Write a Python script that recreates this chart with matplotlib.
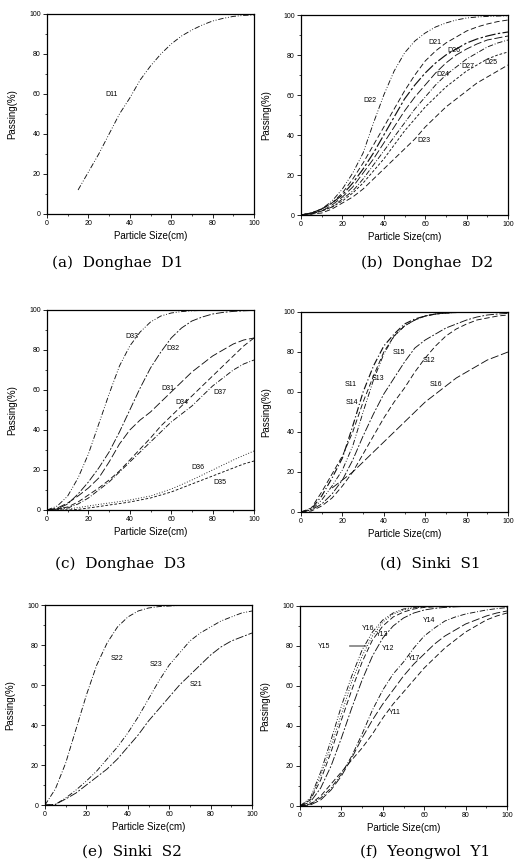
import matplotlib
matplotlib.use('Agg')
from matplotlib import pyplot as plt
from matplotlib.ticker import MultipleLocator

# ---- data ----
X21 = [0, 5, 10, 15, 20, 25, 30, 35, 40, 45, 50, 55, 60, 65, 70, 75, 80, 85, 90, 95, 100]

# (a) Donghae D1
D11_x = [15, 20, 25, 30, 35, 40, 45, 50, 55, 60, 65, 70, 75, 80, 85, 90, 95, 100]
D11_y = [12, 21, 30, 40, 50, 58, 67, 74, 80, 85, 89, 92, 94.5, 96.5, 97.8, 98.8, 99.3, 99.5]

# (b) Donghae D2
D21_y = [0, 1, 3, 6, 11, 18, 26, 35, 44, 53, 62, 70, 77, 82, 86, 89, 92, 94, 95.5, 96.7, 97.5]
D22_y = [0, 1, 3, 7, 13, 21, 31, 46, 60, 72, 81, 87, 91, 94, 96, 97.5, 98.5, 99, 99.3, 99.5, 99.6]
D23_y = [0, 0.5, 1, 3, 6, 9, 13, 18, 23, 28, 33, 38, 44, 49, 54, 58, 62, 66, 69, 72, 75]
D24_y = [0, 1, 2, 5, 9, 14, 21, 28, 36, 44, 52, 59, 65, 71, 76, 80, 83, 85.5, 87.5, 88.5, 89.5]
D25_y = [0, 0.5, 2, 4, 7, 11, 16, 22, 28, 35, 42, 48, 54, 59, 64, 68, 72, 75, 78, 80, 81.5]
D26_y = [0, 1, 3, 6, 10, 16, 23, 31, 40, 49, 58, 65, 71, 76, 80, 83, 86, 88, 89.5, 90.7, 91.5]
D27_y = [0, 0.5, 2, 4, 8, 12, 18, 25, 32, 39, 46, 53, 59, 65, 70, 74, 78, 81, 84, 86, 87.5]

# (c) Donghae D3
D31_y = [0, 1, 3.5, 7, 11, 16, 24, 33, 40, 45, 49, 54, 59, 64, 69, 73, 77, 80, 83, 85, 86]
D32_y = [0, 0.5, 3, 8, 14, 21, 29, 39, 50, 61, 71, 79, 86, 91, 94.5, 96.5, 98, 98.8, 99.3, 99.6, 99.8]
D33_y = [0, 2, 7, 16, 28, 43, 58, 72, 82, 89, 94, 97, 98.5, 99.2, 99.6, 99.8, 100, 100, 100, 100, 100]
D34_y = [0, 0.5, 1.5, 4, 7.5, 11, 15, 19.5, 25, 30.5, 36, 42, 47, 52, 57, 62, 67, 72, 77, 82, 86]
D35_y = [0, 0, 0, 0.3, 1, 1.7, 2.5, 3.2, 4, 5, 6, 7.5, 9, 11, 13, 15, 17, 19, 21, 23, 24.5]
D36_y = [0, 0.2, 0.5, 1.2, 2, 2.8, 3.5, 4.2, 5, 6, 7, 8.7, 10.5, 12.7, 15, 17.5, 20, 22.5, 25, 27.3, 29.5]
D37_y = [0, 0.5, 1, 3, 6, 10, 14, 19, 24, 29, 34, 39, 44, 48, 52, 57, 62, 66, 70, 73, 75]

# (d) Sinki S1
S11_y = [0, 2, 10, 19, 28, 40, 55, 68, 80, 88, 93, 96, 98, 99, 99.5, 99.7, 100, 100, 100, 100, 100]
S12_y = [0, 0.5, 3, 7, 13, 20, 29, 38, 47, 55, 62, 70, 77, 83, 88, 91.5, 94, 96, 97, 98, 98.5]
S13_y = [0, 1, 6, 13, 21, 33, 50, 66, 79, 88, 93, 96, 98, 99, 99.5, 99.8, 100, 100, 100, 100, 100]
S14_y = [0, 1.5, 8, 17, 27, 43, 60, 73, 83, 89, 94, 96.5, 98, 99, 99.5, 99.8, 100, 100, 100, 100, 100]
S15_y = [0, 1, 4, 9, 16, 26, 38, 49, 59, 67, 75, 82, 86, 89, 92, 94, 96, 97.5, 98.5, 99, 99.3]
S16_x = [15, 20, 25, 30, 35, 40, 45, 50, 55, 60, 65, 70, 75, 80, 85, 90, 95, 100]
S16_y = [12, 16, 20, 25, 30, 35, 40, 45, 50, 55, 59, 63, 67, 70, 73, 76, 78, 80]

# (e) Sinki S2
S21_y = [0, 0.3, 3, 6, 10, 14, 18, 23, 29, 35, 42, 48, 54, 60, 65, 70, 75, 79, 82, 84, 86]
S22_y = [0, 8, 21, 38, 55, 70, 81, 89, 94, 97, 98.5, 99.2, 99.5, 99.8, 100, 100, 100, 100, 100, 100, 100]
S23_y = [0, 0.3, 3.5, 7.5, 12, 17, 23, 29, 36, 44, 53, 62, 70, 76, 82, 86, 89, 92, 94, 96, 97]

# (f) Yeongwol Y1
Y11_y = [0, 1, 5, 11, 17, 23, 29, 36, 44, 51, 57, 63, 69, 74, 79, 83, 87, 90, 93, 95, 96.5]
Y12_y = [0, 2, 9, 20, 34, 49, 63, 75, 84, 90, 94, 96.5, 98, 98.8, 99.3, 99.6, 99.8, 100, 100, 100, 100]
Y13_y = [0, 3, 13, 27, 43, 58, 72, 83, 90, 94.5, 97, 98.5, 99.3, 99.6, 99.8, 100, 100, 100, 100, 100, 100]
Y14_y = [0, 1, 4, 9, 16, 25, 36, 48, 58, 66, 72, 79, 85, 89, 92.5, 94.5, 96, 97, 98, 98.7, 99.2]
Y15_y = [0, 3.5, 15, 30, 46, 62, 75, 85, 92, 96, 98, 99, 99.5, 99.8, 100, 100, 100, 100, 100, 100, 100]
Y16_y = [0, 4, 17, 33, 50, 65, 78, 87, 93, 96.5, 98.5, 99.3, 99.7, 99.9, 100, 100, 100, 100, 100, 100, 100]
Y17_y = [0, 0.5, 3, 8, 15, 24, 34, 43, 51, 58, 65, 71, 76, 81, 85, 88, 91, 93, 95, 96.5, 97.5]

CAPTIONS = ['(a)  Donghae  D1', '(b)  Donghae  D2', '(c)  Donghae  D3',
            '(d)  Sinki  S1', '(e)  Sinki  S2', '(f)  Yeongwol  Y1']

# ---- styles ----
DASH = (0, (6, 3))
DASH_DOT = (0, (6, 2, 1, 2))
DASH_DOT_DOT = (0, (6, 2, 1, 2, 1, 2))
SHORT_DASH = (0, (3, 2))
DOT = (0, (1, 2))
LONG_DASH = (0, (9, 3))
LONG_DASH_DOT = (0, (9, 2, 2, 2))

W, H = 519, 868
SANS = 'Liberation Sans'


def add_panel(fig, x, y, w=207, h=200):
    ax = fig.add_axes([x / W, 1 - (y + h) / H, w / W, h / H])
    ax.set_xlim(0, 100)
    ax.set_ylim(0, 100)
    ax.xaxis.set_major_locator(MultipleLocator(20))
    ax.yaxis.set_major_locator(MultipleLocator(20))
    ax.xaxis.set_minor_locator(MultipleLocator(10))
    ax.yaxis.set_minor_locator(MultipleLocator(10))
    ax.tick_params(which='major', direction='out', length=3, width=0.6, labelsize=5, pad=1.5)
    ax.tick_params(which='minor', direction='out', length=1.5, width=0.5)
    for lab in ax.get_xticklabels() + ax.get_yticklabels():
        lab.set_family(SANS)
    for sp in ax.spines.values():
        sp.set_linewidth(0.9)
    ax.set_xlabel('Particle Size(cm)', fontsize=7, family=SANS)
    ax.set_ylabel('Passing(%)', fontsize=7, family=SANS)
    ax.xaxis.set_label_coords(0.5, -0.085)
    ax.yaxis.set_label_coords(-0.145, 0.5)
    return ax


def curve(ax, xs, ys, style, lw=0.65):
    ax.plot(xs, ys, color='#111111', linestyle=style, linewidth=lw)


def label(ax, x, y, text):
    ax.text(x, y, text, fontsize=5, family=SANS, ha='center', va='center')


fig = plt.figure(figsize=(W / 100, H / 100), dpi=100)

# (a)
ax = add_panel(fig, 47, 14)
curve(ax, D11_x, D11_y, DASH_DOT_DOT)
label(ax, 31, 59.5, 'D11')

# (b)
ax = add_panel(fig, 301, 15)
curve(ax, X21, D22_y, DASH_DOT_DOT)
curve(ax, X21, D21_y, DASH)
curve(ax, X21, D26_y, LONG_DASH_DOT, lw=0.85)
curve(ax, X21, D24_y, LONG_DASH)
curve(ax, X21, D27_y, DASH_DOT)
curve(ax, X21, D25_y, SHORT_DASH)
curve(ax, X21, D23_y, DASH)
label(ax, 33.5, 57.5, 'D22')
label(ax, 64.5, 86, 'D21')
label(ax, 74, 82.5, 'D26')
label(ax, 68.5, 70, 'D24')
label(ax, 80.5, 74, 'D27')
label(ax, 91.5, 76, 'D25')
label(ax, 59.5, 37, 'D23')

# (c)
ax = add_panel(fig, 47, 310)
curve(ax, X21, D33_y, DASH_DOT_DOT)
curve(ax, X21, D32_y, LONG_DASH_DOT)
curve(ax, X21, D31_y, LONG_DASH)
curve(ax, X21, D34_y, DASH)
curve(ax, X21, D37_y, DASH_DOT)
curve(ax, X21, D36_y, DOT)
curve(ax, X21, D35_y, SHORT_DASH)
label(ax, 41, 86.5, 'D33')
label(ax, 61, 81, 'D32')
label(ax, 58.5, 61, 'D31')
label(ax, 65, 54, 'D34')
label(ax, 83.5, 59, 'D37')
label(ax, 73, 21, 'D36')
label(ax, 83.5, 13.5, 'D35')

# (d)
ax = add_panel(fig, 301, 312)
curve(ax, X21, S11_y, DASH)
curve(ax, X21, S14_y, DASH_DOT, lw=0.85)
curve(ax, X21, S13_y, DASH_DOT_DOT)
curve(ax, X21, S15_y, LONG_DASH_DOT)
curve(ax, X21, S12_y, DASH)
curve(ax, S16_x, S16_y, LONG_DASH)
label(ax, 24, 63.5, 'S11')
label(ax, 24.5, 55, 'S14')
label(ax, 37, 66.5, 'S13')
label(ax, 47.5, 80, 'S15')
label(ax, 62, 76, 'S12')
label(ax, 65, 63.5, 'S16')

# (e)
ax = add_panel(fig, 45, 605)
curve(ax, X21, S22_y, DASH_DOT)
curve(ax, X21, S23_y, DASH_DOT_DOT)
curve(ax, X21, S21_y, LONG_DASH_DOT)
label(ax, 35, 73.5, 'S22')
label(ax, 53.5, 70, 'S23')
label(ax, 73, 60, 'S21')

# (f)
ax = add_panel(fig, 300, 606)
curve(ax, X21, Y16_y, DASH_DOT_DOT)
curve(ax, X21, Y15_y, DOT)
curve(ax, X21, Y13_y, DASH)
curve(ax, X21, Y12_y, LONG_DASH_DOT)
curve(ax, X21, Y14_y, DASH_DOT)
curve(ax, X21, Y17_y, LONG_DASH)
curve(ax, X21, Y11_y, DASH)
label(ax, 33, 88.5, 'Y16')
label(ax, 39.5, 85.5, 'Y13')
label(ax, 42.5, 79, 'Y12')
label(ax, 62.5, 93, 'Y14')
label(ax, 55, 74, 'Y17')
label(ax, 46, 46.5, 'Y11')
ax.annotate('Y15', xy=(32, 80), xytext=(11.5, 80), fontsize=5, family=SANS,
            ha='center', va='center',
            arrowprops=dict(arrowstyle='-', color='black', linewidth=0.6, shrinkA=12, shrinkB=0))

# captions
for (cx, cy), text in zip([(118, 263), (427, 263), (120, 564), (430, 564), (132, 852), (425, 852)],
                          CAPTIONS):
    fig.text(cx / W, 1 - cy / H, text, fontsize=11, family='DejaVu Serif', ha='center', va='center')

fig.savefig('out.png', dpi=100)
